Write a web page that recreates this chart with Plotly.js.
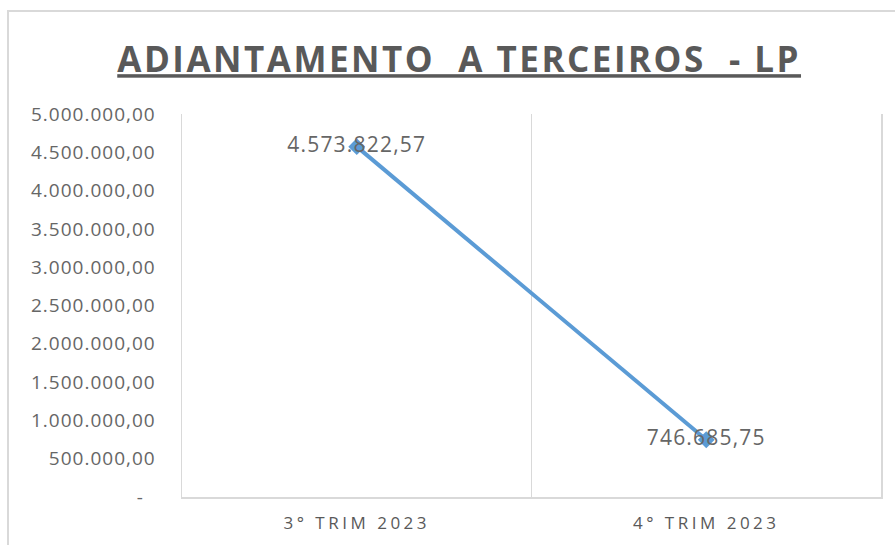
<!DOCTYPE html>
<html>
<head>
<meta charset="utf-8">
<script src="https://cdn.plot.ly/plotly-3.0.1.min.js"></script>
<style>
  body { margin: 0; background: #fff; }
  #chart { width: 895px; height: 545px; }
</style>
</head>
<body>
<div id="chart"></div>
<script>
// periods and balances (R$)
var periods = ['3° TRIM 2023', '4° TRIM 2023'];
var balances = [4573822.57, 746685.75];
var valueLabels = ['4.573.822,57', '746.685,75'];

// y axis ticks, Excel accounting style
var yTicks = [0, 500000, 1000000, 1500000, 2000000, 2500000, 3000000, 3500000, 4000000, 4500000, 5000000];
var yTickText = ['-\u00a0\u00a0', '500.000,00', '1.000.000,00', '1.500.000,00', '2.000.000,00', '2.500.000,00',
    '3.000.000,00', '3.500.000,00', '4.000.000,00', '4.500.000,00', '5.000.000,00'];

var grey = '#595959';
var gridGrey = '#d9d9d9';
var blue = '#5b9bd5';

function spaced(s, px) {
    return '<span style="letter-spacing:' + px + 'px">' + s + '</span>';
}

var trace = {
    x: periods,
    y: balances,
    type: 'scatter',
    mode: 'lines+markers+text',
    line: {color: blue, width: 4},
    marker: {symbol: 'diamond', size: 13, color: blue},
    text: valueLabels.map(function (t) { return spaced(t, 1.2); }),
    textposition: 'middle center',
    textfont: {family: 'Open Sans', size: 21, color: '#666666'},
    hoverinfo: 'skip',
    cliponaxis: false
};

var layout = {
    width: 895,
    height: 545,
    margin: {l: 182, r: 14, t: 114, b: 48},
    paper_bgcolor: '#fff',
    plot_bgcolor: '#fff',
    showlegend: false,
    font: {family: 'Open Sans', color: grey},
    title: {
        text: '<b><u>' + spaced('ADIANTAMENTO  A TERCEIROS  - LP', 2.5) + '</u></b>',
        font: {family: 'Open Sans', size: 35, color: grey},
        xref: 'container', x: 0.513, xanchor: 'center',
        yref: 'container', y: 0.89, yanchor: 'middle'
    },
    xaxis: {
        type: 'category',
        range: [-0.5, 1.5],
        tickson: 'boundaries',
        showgrid: true,
        gridcolor: gridGrey,
        gridwidth: 1.5,
        showline: true,
        linecolor: gridGrey,
        linewidth: 2,
        ticks: '',
        tickmode: 'array',
        tickvals: periods,
        ticktext: periods.map(function (p) { return spaced(p, 3.5); }),
        tickfont: {family: 'Open Sans', size: 17, color: grey},
        ticklabelstandoff: 10
    },
    yaxis: {
        range: [0, 5000000],
        tickmode: 'array',
        tickvals: yTicks,
        ticktext: yTickText.map(function (t) { return spaced(t, 1); }),
        showgrid: false,
        zeroline: false,
        showline: true,
        mirror: true,
        linecolor: gridGrey,
        linewidth: 1.5,
        ticks: '',
        tickfont: {family: 'Open Sans', size: 19, color: '#666666'},
        ticklabelstandoff: 21
    },
    shapes: [{
        type: 'rect', xref: 'paper', yref: 'paper',
        x0: -0.2489, x1: 1.2, y0: -0.4, y1: 1.2689,
        line: {color: gridGrey, width: 2},
        layer: 'below'
    }]
};

Plotly.newPlot('chart', [trace], layout, {displayModeBar: false, staticPlot: true});
</script>
</body>
</html>
